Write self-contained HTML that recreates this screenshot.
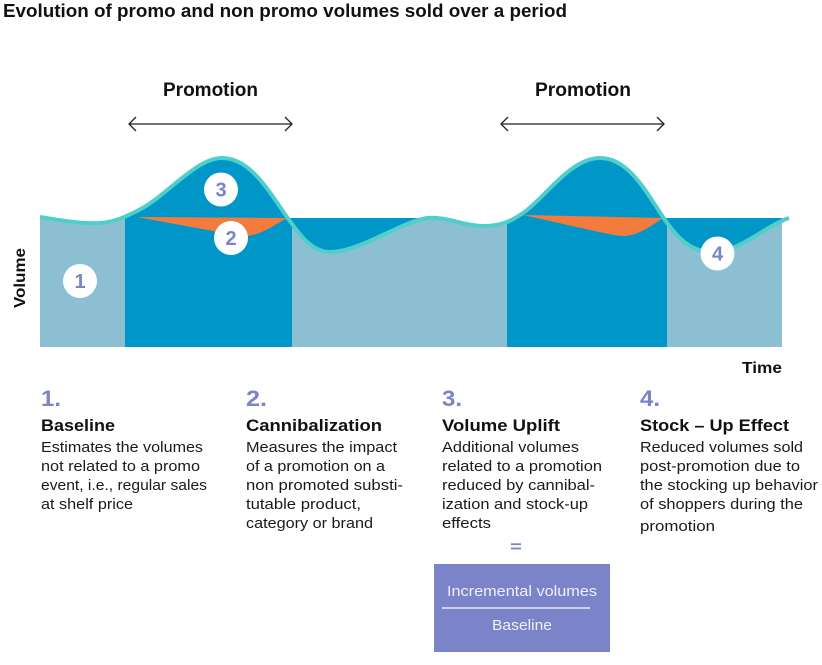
<!DOCTYPE html>
<html><head><meta charset="utf-8"><style>
html,body{margin:0;padding:0;background:#fff;}
svg{display:block;}
text{font-family:"Liberation Sans",Arial,sans-serif;}
</style></head><body>
<svg width="822" height="665" viewBox="0 0 822 665" xmlns="http://www.w3.org/2000/svg">
<defs>
<path id="area" d="M40,217 C60,220 80,224 100,223 C115,222 125,217 137,211 C165,198 195,158 222,158 C250,158 268,190 287,217 C300,235.5 312,252 330,252 C360,252 400,222 427,218 C445,216 465,226 483,226 C500,226 510,222 523,213 C545,198 570,158 600,158 C628,158 645,190 663,217 C676,236.5 690,252 712,252 C740,252 765,226 789,218 L789,347 L40,347 Z"/>
<clipPath id="cAll"><rect x="40" y="100" width="742" height="247"/></clipPath>
<clipPath id="cP1"><rect x="125" y="100" width="167" height="247"/></clipPath>
<clipPath id="cP2"><rect x="507" y="100" width="160" height="247"/></clipPath>
</defs>

<!-- title -->
<text x="3" y="17" font-size="18" font-weight="bold" fill="#111" textLength="564" lengthAdjust="spacingAndGlyphs">Evolution of promo and non promo volumes sold over a period</text>

<!-- promotion labels -->
<text x="163" y="96" font-size="19" font-weight="bold" fill="#111" textLength="95" lengthAdjust="spacingAndGlyphs">Promotion</text>
<text x="535" y="96" font-size="19" font-weight="bold" fill="#111" textLength="96" lengthAdjust="spacingAndGlyphs">Promotion</text>

<!-- arrows -->
<g stroke="#222" stroke-width="1.3" fill="none">
<line x1="129" y1="124" x2="292" y2="124"/>
<polyline points="136,117 129,124 136,131"/>
<polyline points="285,117 292,124 285,131"/>
<line x1="501" y1="124" x2="664" y2="124"/>
<polyline points="508,117 501,124 508,131"/>
<polyline points="657,117 664,124 657,131"/>
</g>

<!-- chart -->
<rect x="287" y="218" width="141" height="129" fill="#0096c8"/>
<rect x="663" y="218" width="119" height="129" fill="#0096c8"/>
<use href="#area" fill="#8bbfd1" clip-path="url(#cAll)"/>
<use href="#area" fill="#0096c8" clip-path="url(#cP1)"/>
<use href="#area" fill="#0096c8" clip-path="url(#cP2)"/>

<!-- orange cannibalization -->
<path d="M137,217 L287,218 C275,225 262,234 248,236 C238,236 226,233 213,231 Z" fill="#f47b3e"/>
<path d="M523,215 L663,218 C652,225 640,235 625,236 C615,236 600,232 590,230 Z" fill="#f47b3e"/>

<!-- curve -->
<path d="M40,217 C60,220 80,224 100,223 C115,222 125,217 137,211 C165,198 195,158 222,158 C250,158 268,190 287,217 C300,235.5 312,252 330,252 C360,252 400,222 427,218 C445,216 465,226 483,226 C500,226 510,222 523,213 C545,198 570,158 600,158 C628,158 645,190 663,217 C676,236.5 690,252 712,252 C740,252 765,226 789,218" fill="none" stroke="#4fcfcb" stroke-width="4"/>

<!-- circles -->
<g font-size="20" font-weight="bold" fill="#7b83c9" text-anchor="middle">
<circle cx="80" cy="281" r="17" fill="#fff"/><text x="80" y="288">1</text>
<circle cx="231" cy="238" r="17" fill="#fff"/><text x="231" y="245">2</text>
<circle cx="221" cy="189.5" r="17" fill="#fff"/><text x="221" y="196.5">3</text>
<circle cx="717.5" cy="253.5" r="17" fill="#fff"/><text x="717.5" y="260.5">4</text>
</g>

<!-- axis labels -->
<text transform="translate(25,278) rotate(-90)" text-anchor="middle" font-size="16" font-weight="bold" fill="#111" textLength="60" lengthAdjust="spacingAndGlyphs">Volume</text>
<text x="742" y="373" font-size="16" font-weight="bold" fill="#111" textLength="40" lengthAdjust="spacingAndGlyphs">Time</text>

<!-- numbers -->
<g font-size="22" font-weight="bold" fill="#7b83c9">
<text x="41" y="406" textLength="20" lengthAdjust="spacingAndGlyphs">1.</text>
<text x="246" y="406" textLength="21" lengthAdjust="spacingAndGlyphs">2.</text>
<text x="442" y="406" textLength="20" lengthAdjust="spacingAndGlyphs">3.</text>
<text x="640" y="406" textLength="20" lengthAdjust="spacingAndGlyphs">4.</text>
</g>

<!-- headings -->
<g font-size="17" font-weight="bold" fill="#111">
<text x="41" y="431" textLength="74" lengthAdjust="spacingAndGlyphs">Baseline</text>
<text x="246" y="431" textLength="136" lengthAdjust="spacingAndGlyphs">Cannibalization</text>
<text x="442" y="431" textLength="118" lengthAdjust="spacingAndGlyphs">Volume Uplift</text>
<text x="640" y="431" textLength="149" lengthAdjust="spacingAndGlyphs">Stock – Up Effect</text>
</g>

<!-- body -->
<g font-size="15" fill="#1a1a1a">
<text x="41" y="452" textLength="162" lengthAdjust="spacingAndGlyphs">Estimates the volumes</text>
<text x="41" y="471" textLength="159" lengthAdjust="spacingAndGlyphs">not related to a promo</text>
<text x="41" y="490" textLength="166" lengthAdjust="spacingAndGlyphs">event, i.e., regular sales</text>
<text x="41" y="509" textLength="92" lengthAdjust="spacingAndGlyphs">at shelf price</text>

<text x="246" y="452" textLength="151" lengthAdjust="spacingAndGlyphs">Measures the impact</text>
<text x="246" y="471" textLength="139" lengthAdjust="spacingAndGlyphs">of a promotion on a</text>
<text x="246" y="490" textLength="157" lengthAdjust="spacingAndGlyphs">non promoted substi-</text>
<text x="246" y="509" textLength="115" lengthAdjust="spacingAndGlyphs">tutable product,</text>
<text x="246" y="528" textLength="127" lengthAdjust="spacingAndGlyphs">category or brand</text>

<text x="442" y="452" textLength="137" lengthAdjust="spacingAndGlyphs">Additional volumes</text>
<text x="442" y="471" textLength="160" lengthAdjust="spacingAndGlyphs">related to a promotion</text>
<text x="442" y="490" textLength="153" lengthAdjust="spacingAndGlyphs">reduced by cannibal-</text>
<text x="442" y="509" textLength="146" lengthAdjust="spacingAndGlyphs">ization and stock-up</text>
<text x="442" y="528" textLength="49" lengthAdjust="spacingAndGlyphs">effects</text>

<text x="640" y="452" textLength="163" lengthAdjust="spacingAndGlyphs">Reduced volumes sold</text>
<text x="640" y="471" textLength="160" lengthAdjust="spacingAndGlyphs">post-promotion due to</text>
<text x="640" y="490" textLength="178" lengthAdjust="spacingAndGlyphs">the stocking up behavior</text>
<text x="640" y="509" textLength="163" lengthAdjust="spacingAndGlyphs">of shoppers during the</text>
<text x="640" y="531" textLength="75" lengthAdjust="spacingAndGlyphs">promotion</text>
</g>

<!-- equals -->
<rect x="511" y="543.3" width="10" height="1.8" fill="#7b83c9"/>
<rect x="511" y="547.6" width="10" height="1.8" fill="#7b83c9"/>

<!-- formula box -->
<rect x="434" y="564" width="176" height="88" fill="#7b83c9"/>
<text x="447" y="596" font-size="15" fill="#eef0fa" textLength="150" lengthAdjust="spacingAndGlyphs">Incremental volumes</text>
<line x1="442" y1="608" x2="590" y2="608" stroke="#fff" stroke-width="1.2"/>
<text x="492" y="630" font-size="15" fill="#eef0fa" textLength="60" lengthAdjust="spacingAndGlyphs">Baseline</text>
</svg>
</body></html>
